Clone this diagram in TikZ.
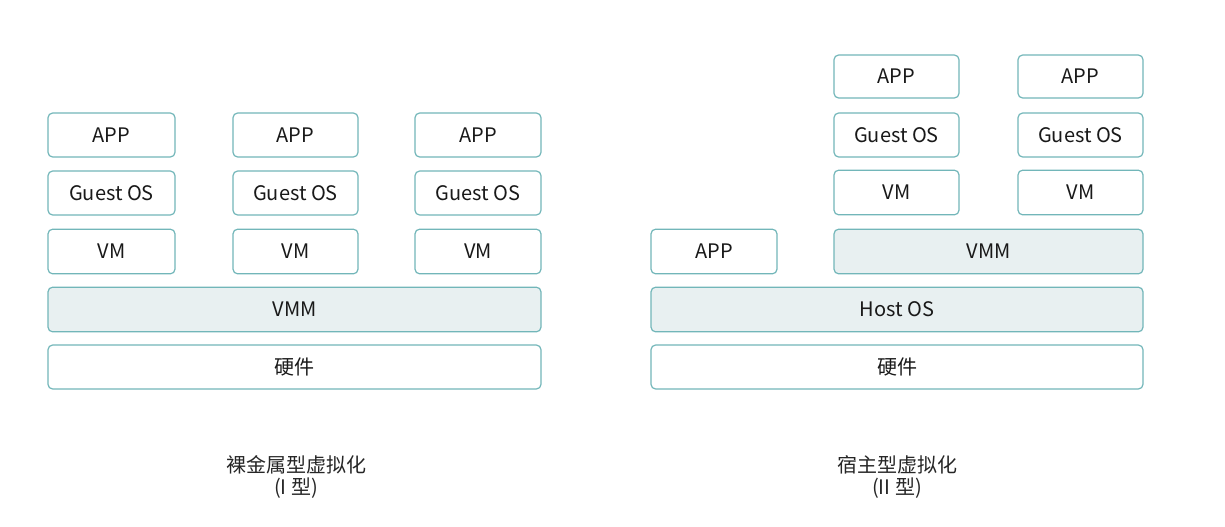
\documentclass[tikz,border=0pt]{standalone}
\usepackage{fontspec}
\setmainfont{Noto Sans CJK SC}
\begin{document}
\begin{tikzpicture}[x=0.75pt,y=-0.75pt,
  box/.style={draw=boxline,line width=0.9pt,rounded corners=3.5pt,fill=white,inner sep=0pt,font=\fontsize{15}{17}\selectfont,text=black!90},
  shaded/.style={box,fill=boxfill},
  captext/.style={font=\fontsize{15}{18}\selectfont,text=black!85,align=center}]
\definecolor{boxline}{HTML}{72B6B9}
\definecolor{boxfill}{HTML}{E8F0F1}
\useasboundingbox (0,0) rectangle (1225,526);
% left diagram
\foreach \n/\a/\b in {1/48/175,2/233/358,3/415/541}{
  \node[box,minimum width={(\b-\a)*0.75pt},minimum height=33pt] (lapp\n) at ({(\a+\b)/2},135) {APP};
  \node[box,minimum width={(\b-\a)*0.75pt},minimum height=33pt] (lgos\n) at ({(\a+\b)/2},193) {Guest OS};
  \node[box,minimum width={(\b-\a)*0.75pt},minimum height=33.5pt] (lvm\n) at ({(\a+\b)/2},251.5) {VM};
}
\node[shaded,minimum width={493*0.75pt},minimum height=33.5pt] (lvmm) at (294.5,309.5) {VMM};
\node[box,minimum width={493*0.75pt},minimum height=33pt] (lhw) at (294.5,367) {硬件};
\node[captext] (lcap) at (296,477) {裸金属型虚拟化\\[-1pt](I 型)};
% right diagram
\foreach \n/\a/\b in {1/834/959,2/1018/1143}{
  \node[box,minimum width={(\b-\a)*0.75pt},minimum height=32.25pt] (rapp\n) at ({(\a+\b)/2},76.5) {APP};
  \node[box,minimum width={(\b-\a)*0.75pt},minimum height=33pt] (rgos\n) at ({(\a+\b)/2},135) {Guest OS};
  \node[box,minimum width={(\b-\a)*0.75pt},minimum height=33.5pt] (rvm\n) at ({(\a+\b)/2},192.5) {VM};
}
\node[box,minimum width={126*0.75pt},minimum height=33.5pt] (rapp) at (714,251.5) {APP};
\node[shaded,minimum width={309*0.75pt},minimum height=33.5pt] (rvmm) at (988.5,251.5) {VMM};
\node[shaded,minimum width={492*0.75pt},minimum height=33.5pt] (rhost) at (897,309.5) {Host OS};
\node[box,minimum width={492*0.75pt},minimum height=33pt] (rhw) at (897,367) {硬件};
\node[captext] (rcap) at (897,477) {宿主型虚拟化\\[-1pt](II 型)};
\end{tikzpicture}
\end{document}
